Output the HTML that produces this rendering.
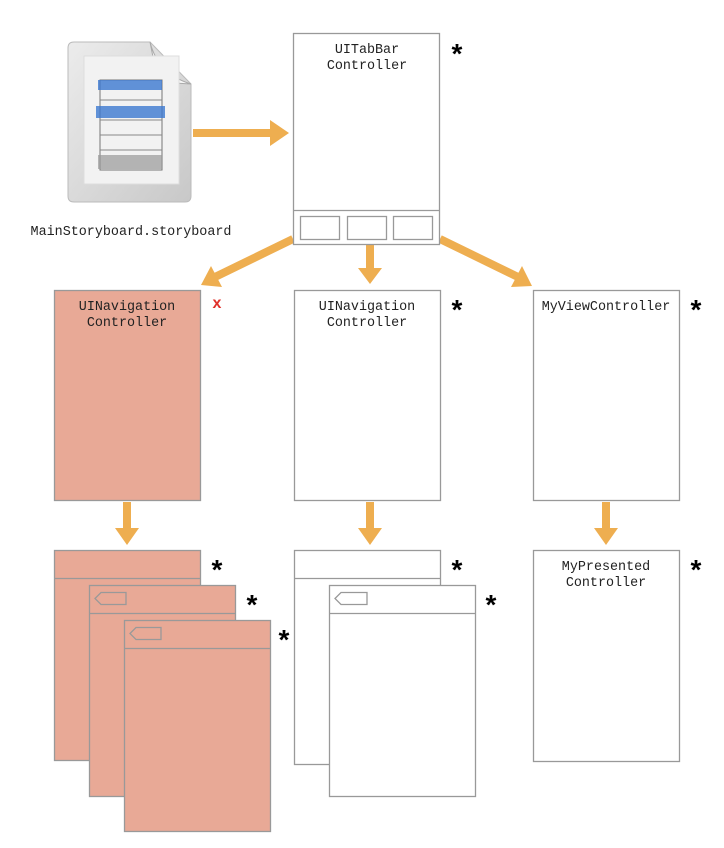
<!DOCTYPE html>
<html><head><meta charset="utf-8"><style>
body{margin:0;background:#fff;width:724px;height:843px;overflow:hidden;font-family:"Liberation Mono",monospace}
</style></head><body>
<svg width="724" height="843" viewBox="0 0 724 843" xmlns="http://www.w3.org/2000/svg">
<defs>
<linearGradient id="doc" x1="0" y1="0" x2="1" y2="1"><stop offset="0" stop-color="#ececec"/><stop offset="1" stop-color="#c8c8c8"/></linearGradient>
</defs>
<path d="M74 42 L150 42 L191 84 L191 196 Q191 202 185 202 L74 202 Q68 202 68 196 L68 48 Q68 42 74 42 Z" fill="url(#doc)" stroke="#bbb"/>
<path d="M150 42 Q158 74 191 84 L158 82 Z" fill="#f6f6f6" stroke="#aaa"/>
<rect x="84" y="56" width="95" height="128" fill="#f2f2f2" stroke="#ddd"/>
<rect x="100" y="80" width="62" height="90" fill="none" stroke="#777"/>
<rect x="98" y="80" width="64" height="10" fill="#3b78d0" opacity=".8"/>
<rect x="96" y="106" width="69" height="12" fill="#3b78d0" opacity=".8"/>
<rect x="98" y="155" width="64" height="14" fill="#999" opacity=".7"/>
<g stroke="#888" stroke-width="1"><line x1="100" y1="100" x2="162" y2="100"/><line x1="100" y1="120" x2="162" y2="120"/><line x1="100" y1="135" x2="162" y2="135"/><line x1="100" y1="150" x2="162" y2="150"/></g>
<text x="131" y="235" font-size="13.4" text-anchor="middle" fill="#222" font-family="Liberation Mono">MainStoryboard.storyboard</text>

<g fill="#eeae50" stroke="#eeae50">
<line x1="193" y1="133" x2="272" y2="133" stroke-width="8"/><polygon points="270,120 289,133 270,146" stroke="none"/>
<line x1="293" y1="239" x2="215" y2="277" stroke-width="8"/><polygon points="201,285 211,266 222,287" stroke="none"/>
<line x1="370" y1="245" x2="370" y2="270" stroke-width="8"/><polygon points="358,268 382,268 370,284" stroke="none"/>
<line x1="440" y1="239" x2="518" y2="277" stroke-width="8"/><polygon points="532,286 511,287 522,266" stroke="none"/>
<line x1="127" y1="502" x2="127" y2="530" stroke-width="8"/><polygon points="115,528 139,528 127,545" stroke="none"/>
<line x1="370" y1="502" x2="370" y2="530" stroke-width="8"/><polygon points="358,528 382,528 370,545" stroke="none"/>
<line x1="606" y1="502" x2="606" y2="530" stroke-width="8"/><polygon points="594,528 618,528 606,545" stroke="none"/>
</g>

<g stroke="#999" stroke-width="1.3">
<rect x="293.5" y="33.5" width="146" height="211" fill="#fff"/>
<line x1="293" y1="210.5" x2="440" y2="210.5"/>
<rect x="300.5" y="216.5" width="39" height="23" fill="#fff"/>
<rect x="347.5" y="216.5" width="39" height="23" fill="#fff"/>
<rect x="393.5" y="216.5" width="39" height="23" fill="#fff"/>
<rect x="54.5" y="290.5" width="146" height="210" fill="#e8a996"/>
<rect x="294.5" y="290.5" width="146" height="210" fill="#fff"/>
<rect x="533.5" y="290.5" width="146" height="210" fill="#fff"/>
<rect x="54.5" y="550.5" width="146" height="210" fill="#e8a996"/>
<line x1="54" y1="578.5" x2="200" y2="578.5"/>
<rect x="89.5" y="585.5" width="146" height="211" fill="#e8a996"/>
<line x1="89" y1="613.5" x2="235" y2="613.5"/>
<path d="M95 598.5 L101 592.5 L126 592.5 L126 604.5 L101 604.5 Z" fill="none"/>
<rect x="124.5" y="620.5" width="146" height="211" fill="#e8a996"/>
<line x1="124" y1="648.5" x2="270" y2="648.5"/>
<path d="M130 633.5 L136 627.5 L161 627.5 L161 639.5 L136 639.5 Z" fill="none"/>
<rect x="294.5" y="550.5" width="146" height="214" fill="#fff"/>
<line x1="294" y1="578.5" x2="440" y2="578.5"/>
<rect x="329.5" y="585.5" width="146" height="211" fill="#fff"/>
<line x1="329" y1="613.5" x2="475" y2="613.5"/>
<path d="M335 598.5 L341 592.5 L367 592.5 L367 604.5 L341 604.5 Z" fill="none"/>
<rect x="533.5" y="550.5" width="146" height="211" fill="#fff"/>
</g>
<g font-family="Liberation Mono" font-size="13.4" fill="#222" text-anchor="middle">
<text x="367" y="53">UITabBar</text><text x="367" y="69">Controller</text>
<text x="127" y="310">UINavigation</text><text x="127" y="326">Controller</text>
<text x="367" y="310">UINavigation</text><text x="367" y="326">Controller</text>
<text x="606" y="310">MyViewController</text>
<text x="606" y="570">MyPresented</text><text x="606" y="586">Controller</text>
</g>
<g font-family="Liberation Sans" font-size="28" font-weight="bold" fill="#000" text-anchor="middle">
<text x="457" y="63">*</text>
<text x="457" y="319">*</text>
<text x="696" y="319">*</text>
<text x="217" y="579">*</text>
<text x="252" y="614">*</text>
<text x="284" y="649">*</text>
<text x="457" y="579">*</text>
<text x="491" y="614">*</text>
<text x="696" y="579">*</text>
</g>
<text x="217" y="308" font-family="Liberation Sans" font-size="16" font-weight="bold" fill="#e0302a" text-anchor="middle">x</text>
</svg>
</body></html>
